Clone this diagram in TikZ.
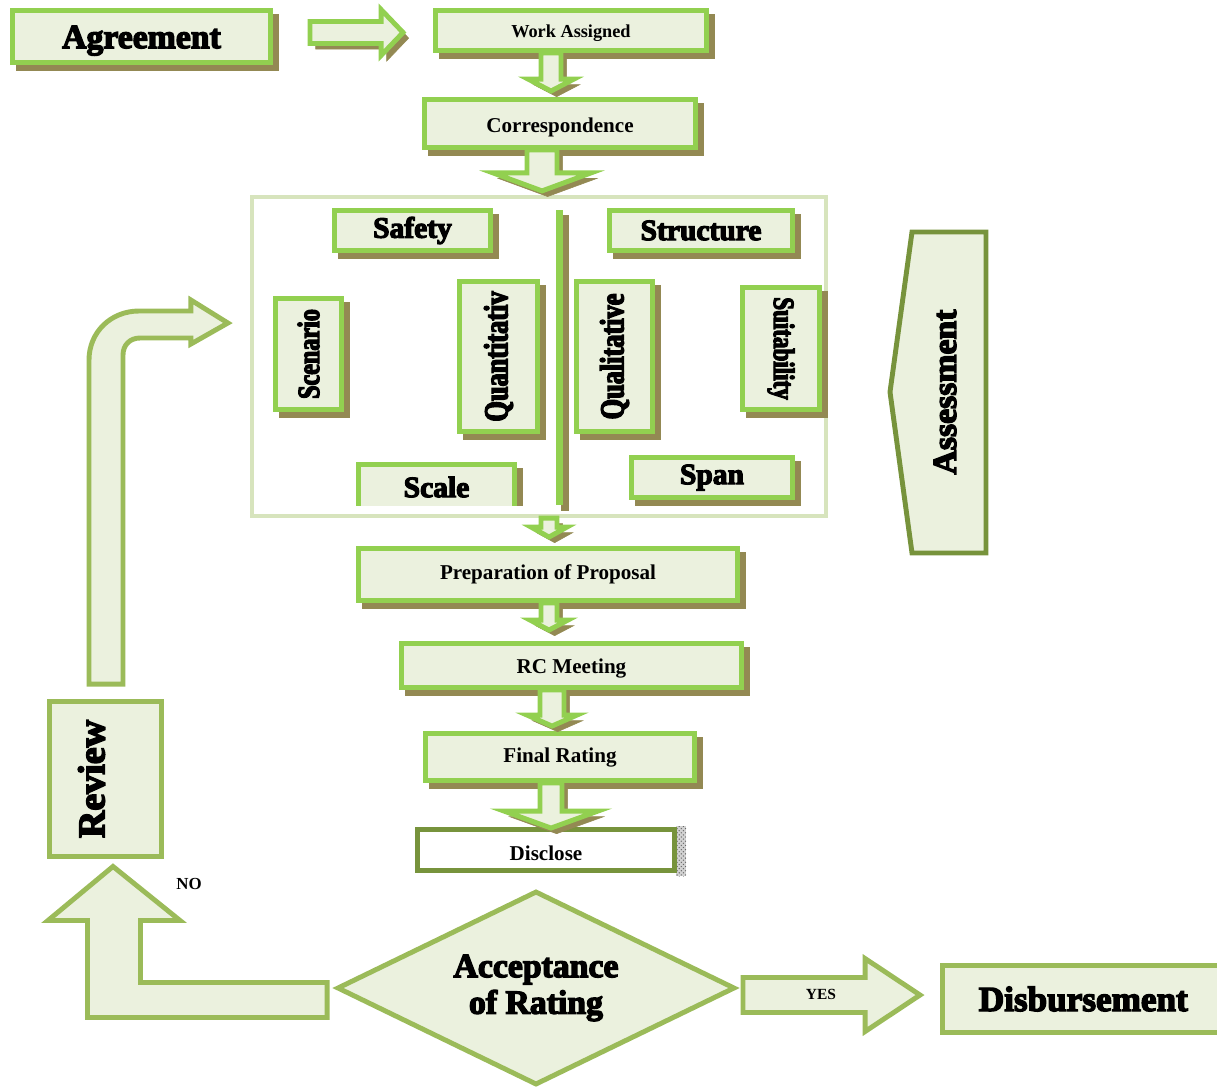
\documentclass[tikz,border=0pt]{standalone}
\usepackage{fontspec}
\setmainfont{Liberation Serif}
\newfontfamily\heavyfont{Liberation Serif Bold}[FakeBold=4]
\newfontfamily\heavycond{Liberation Serif Bold}[FakeBold=4, FakeStretch=0.78]
\usetikzlibrary{calc, shapes.geometric, shadows, patterns}
\definecolor{lgreen}{HTML}{92D050}
\definecolor{paleg}{HTML}{EBF1DE}
\definecolor{shadowc}{HTML}{938953}
\definecolor{oliveg}{HTML}{77933C}
\definecolor{sage}{HTML}{9BBB59}
\definecolor{frameg}{HTML}{D7E4BD}
\newcommand\pxu{0.025cm}
\newcommand\lowtext[2]{\raisebox{-#1}[\height][\depth]{#2}}
\tikzset{
  boxshadow/.style={drop shadow={shadow xshift=4pt, shadow yshift=-4pt, fill=shadowc, draw=shadowc, opacity=1}},
  gbox/.style={draw=lgreen, fill=paleg, line width=3.5pt, inner sep=0pt, boxshadow},
  sbox/.style={draw=sage, fill=paleg, line width=3.5pt, inner sep=0pt},
  blockarrow/.style={draw=lgreen, fill=paleg, line width=3.5pt, line join=miter, boxshadow},
  sagearrow/.style={draw=sage, fill=paleg, line width=3.5pt, line join=miter},
  tlabel/.style={font=\bfseries\fontsize{15}{18}\selectfont},
  hlabel/.style={font=\heavyfont\fontsize{#1}{#1}\selectfont},
  clabel/.style={font=\heavycond\fontsize{#1}{#1}\selectfont}
}
% block arrows: start, tip, half shaft, half head, head length
\newcommand\downblock[6][blockarrow]{%
  \draw[#1] ($(#2)+(-#4,0)$) -- ($(#3)+(-#4,-#6)$) -- ($(#3)+(-#5,-#6)$) -- (#3)
    -- ($(#3)+(#5,-#6)$) -- ($(#3)+(#4,-#6)$) -- ($(#2)+(#4,0)$) -- cycle;}
\newcommand\rightblock[6][blockarrow]{%
  \draw[#1] ($(#2)+(0,-#4)$) -- ($(#3)+(-#6,-#4)$) -- ($(#3)+(-#6,-#5)$) -- (#3)
    -- ($(#3)+(-#6,#5)$) -- ($(#3)+(-#6,#4)$) -- ($(#2)+(0,#4)$) -- cycle;}
\begin{document}
\begin{tikzpicture}[x=0.025cm, y=-0.025cm]
\useasboundingbox (0,0) rectangle (1217,1088);

% top of the chart
\node[gbox, minimum width=258*\pxu, minimum height=52*\pxu, hlabel=24] (agree) at (141.5,36.5) {\lowtext{3pt}{Agreement}};
\node[gbox, minimum width=271*\pxu, minimum height=40*\pxu, font=\bfseries\fontsize{13}{15}\selectfont] (work) at (571,30.5) {\lowtext{2pt}{Work Assigned}};
\node[gbox, minimum width=271*\pxu, minimum height=48*\pxu, tlabel] (corr) at (560,123.5) {\lowtext{3pt}{Correspondence}};

% assessment frame
\node[draw=frameg, line width=3pt, minimum width=574*\pxu, minimum height=319*\pxu] (frame) at (539,356.5) {};
\node[fill=lgreen, inner sep=0pt, minimum width=7*\pxu, minimum height=295*\pxu, boxshadow] (divider) at (559.5,357.5) {};
\node[gbox, minimum width=156*\pxu, minimum height=40*\pxu, hlabel=21] (safety) at (412.5,230.5) {Safety};
\node[gbox, minimum width=183*\pxu, minimum height=40*\pxu, hlabel=21] (struct) at (701,230.5) {Structure};
\node[gbox, minimum width=66*\pxu, minimum height=111*\pxu, clabel=22] (scen) at (308.5,354) {\rotatebox{90}{Scenario}};
\node[gbox, minimum width=78*\pxu, minimum height=150*\pxu, clabel=24] (quant) at (498.5,356.5) {\rotatebox{90}{Quantitativ}};
\node[gbox, minimum width=76*\pxu, minimum height=150*\pxu, clabel=24] (qual) at (614.5,356.5) {\rotatebox{90}{Qualitative}};
\node[gbox, minimum width=77*\pxu, minimum height=122*\pxu, clabel=21] (suit) at (781,348.5) {\rotatebox{-90}{Suitability}};
\begin{scope}
  \clip (0,0) rectangle (1217,505);
  \node[gbox, minimum width=156*\pxu, minimum height=70*\pxu] (scale) at (436.5,499.5) {};
\end{scope}
\node[hlabel=21] (scaletext) at (436.5,487) {Scale};
\node[gbox, minimum width=161*\pxu, minimum height=40*\pxu, hlabel=21] (span) at (712,477.5) {Span};

% assessment tag
\draw[draw=oliveg, fill=paleg, line width=3.5pt] (912,232) -- (986,232) -- (986,553) -- (912,553) -- (890,392) -- cycle;
\node[hlabel=24] (assess) at (945,392) {\rotatebox{90}{Assessment}};

% lower chain
\node[gbox, minimum width=379*\pxu, minimum height=52*\pxu, tlabel] (prep) at (548,574.5) {Preparation of Proposal};
\node[gbox, minimum width=340*\pxu, minimum height=44*\pxu, tlabel] (rc) at (571.5,665.5) {\lowtext{2pt}{RC Meeting}};
\node[gbox, minimum width=269*\pxu, minimum height=47*\pxu, tlabel] (final) at (560,757) {Final Rating};
\fill[gray!35] (676,826) rectangle (686,876);
\fill[pattern=crosshatch dots, pattern color=gray!80!black] (676,826) rectangle (686,876);
\node[draw=oliveg, fill=white, line width=3.5pt, inner sep=0pt, minimum width=257*\pxu, minimum height=41*\pxu, tlabel] (disc) at (546,850) {\lowtext{2pt}{Disclose}};

% decision
\node[diamond, aspect=2, draw=sage, fill=paleg, line width=3.5pt, inner sep=0pt, minimum width=398*\pxu, minimum height=194*\pxu, align=center, font=\heavyfont\fontsize{24}{26}\selectfont] (accept) at (536,988) {Acceptance\\of Rating};
\node[sbox, minimum width=112*\pxu, minimum height=155*\pxu, hlabel=27] (review) at (105.5,779) {\rotatebox{90}{Review}\kern20pt};
\node[sbox, minimum width=290*\pxu, minimum height=67*\pxu, hlabel=25] (disb) at (1087.5,999) {Disbursement\kern6pt};

% arrows down the chain
\coordinate (s0) at ($(agree.east)+(37,-4)$);
\coordinate (e0) at ($(work.west)+(-30,2)$);
\rightblock{s0}{e0}{11}{23}{22}
\coordinate (s1) at ($(work.south)+(-20,0)$);
\coordinate (e1) at ($(corr.north)+(-9,-6)$);
\downblock{s1}{e1}{10}{23}{12}
\coordinate (s2) at ($(corr.south)+(-18,0)$);
\coordinate (e2) at ($(frame.north)+(3,-4)$);
\downblock{s2}{e2}{15}{49}{18}
\coordinate (s3) at ($(frame.south)+(10,0)$);
\coordinate (e3) at ($(prep.north)+(1,-9)$);
\downblock{s3}{e3}{8}{18}{10}
\coordinate (s4) at ($(prep.south)+(1,0)$);
\coordinate (e4) at ($(rc.north)+(-22.5,-11)$);
\downblock{s4}{e4}{8}{19}{10}
\coordinate (s5) at ($(rc.south)+(-19.5,0)$);
\coordinate (e5) at ($(final.north)+(-8,-5)$);
\downblock{s5}{e5}{12}{25}{11}
\coordinate (s6) at ($(final.south)+(-9,0)$);
\coordinate (e6) at ($(disc.north)+(5,1)$);
\downblock{s6}{e6}{11}{47}{17}

% yes / no
\coordinate (ys) at ($(accept.east)+(5.5,7)$);
\coordinate (ye) at ($(disb.west)+(-20,-4)$);
\rightblock[sagearrow]{ys}{ye}{17.5}{36.5}{55}
\node[font=\bfseries\fontsize{11}{13}\selectfont] (yeslabel) at (821,994) {YES};
\coordinate (nocorner) at (review.south |- accept.west);
\draw[sagearrow] ($(accept.west)+(-7.5,29.5)$) -- ($(accept.west)+(-7.5,-5.5)$)
  -- ($(nocorner)+(35,-5.5)$) -- ($(review.south)+(35,61.5)$) -- ($(review.south)+(74.5,61.5)$)
  -- ($(review.south)+(7.5,7.5)$) -- ($(review.south)+(-57.5,61.5)$) -- ($(review.south)+(-18,61.5)$)
  -- ($(nocorner)+(-18,29.5)$) -- cycle;
\node[font=\bfseries\fontsize{12}{14}\selectfont] (nolabel) at (189,884) {NO};

% back to the assessment
\coordinate (rvfoot) at ($(review.north)+(0,-15)$);
\coordinate (rvtip) at ($(frame.west)+(-22,-33.5)$);
\coordinate (rvbend) at (rvfoot |- rvtip);
\draw[sagearrow] ($(rvfoot)+(-16.5,0)$) -- ($(rvbend)+(-16.5,37)$)
  .. controls ($(rvbend)+(-16.5,9)$) and ($(rvbend)+(5.5,-12)$) .. ($(rvbend)+(33.5,-12)$)
  -- ($(rvtip)+(-37,-12)$) -- ($(rvtip)+(-37,-23)$) -- (rvtip) -- ($(rvtip)+(-37,21)$)
  -- ($(rvtip)+(-37,15)$) -- ($(rvbend)+(34.5,15)$)
  .. controls ($(rvbend)+(24.5,15)$) and ($(rvbend)+(17.5,22)$) .. ($(rvbend)+(17.5,32)$)
  -- ($(rvfoot)+(17.5,0)$) -- cycle;
\end{tikzpicture}
\end{document}
